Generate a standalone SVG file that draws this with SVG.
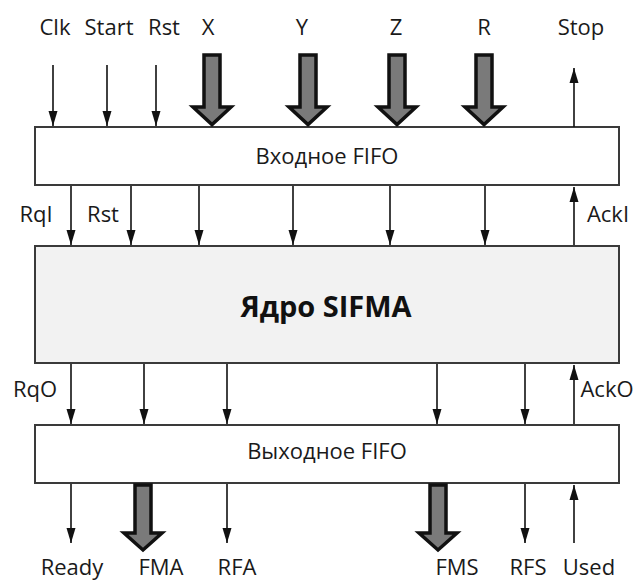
<svg xmlns="http://www.w3.org/2000/svg" width="637" height="581" viewBox="0 0 637 581">
<defs>
<style>
text{font-family:"Open Sans","DejaVu Sans",sans-serif;font-size:22px;fill:#1a1a1a;text-anchor:middle}
.box{fill:#ffffff;stroke:#3a3a3a;stroke-width:2}
.core{fill:#f2f2f2;stroke:#3a3a3a;stroke-width:2}
.thin{stroke:#111;stroke-width:1.6;fill:none}
.big{fill:#7a7a7a;stroke:#111;stroke-width:3.5;stroke-linejoin:miter}
.title{font-size:29px;font-weight:bold;fill:#111}
</style>
<marker id="ad" markerUnits="userSpaceOnUse" markerWidth="16" markerHeight="10" viewBox="0 0 16 10" refX="15" refY="5" orient="auto">
<path d="M0,0.5 L15,5 L0,9.5 Z" fill="#111"/>
</marker>
</defs>

<g id="input-fifo">
<rect class="box" x="35" y="127" width="584" height="58"/>
<text x="327" y="164">Входное FIFO</text>
</g>
<g id="core">
<rect class="core" x="35" y="246" width="584" height="117"/>
<text class="title" x="326" y="317">Ядро SIFMA</text>
</g>
<g id="output-fifo">
<rect class="box" x="35" y="425" width="584" height="58"/>
<text x="327" y="459">Выходное FIFO</text>
</g>

<g id="connectors">
<line class="thin" x1="53" y1="65" x2="53" y2="126" marker-end="url(#ad)"/>
<line class="thin" x1="107" y1="65" x2="107" y2="126" marker-end="url(#ad)"/>
<line class="thin" x1="156" y1="65" x2="156" y2="126" marker-end="url(#ad)"/>
<polygon class="big" points="204,55 220,55 220,107 231,107 212,124.5 193,107 204,107"/>
<polygon class="big" points="300,55 316,55 316,107 327,107 308,124.5 289,107 300,107"/>
<polygon class="big" points="389,55 405,55 405,107 416,107 397,124.5 378,107 389,107"/>
<polygon class="big" points="476,55 492,55 492,107 503,107 484,124.5 465,107 476,107"/>
<line class="thin" x1="574" y1="127" x2="574" y2="68" marker-end="url(#ad)"/>
<line class="thin" x1="71" y1="186" x2="71" y2="245" marker-end="url(#ad)"/>
<line class="thin" x1="131" y1="186" x2="131" y2="245" marker-end="url(#ad)"/>
<line class="thin" x1="199" y1="186" x2="199" y2="245" marker-end="url(#ad)"/>
<line class="thin" x1="293" y1="186" x2="293" y2="245" marker-end="url(#ad)"/>
<line class="thin" x1="390" y1="186" x2="390" y2="245" marker-end="url(#ad)"/>
<line class="thin" x1="485" y1="186" x2="485" y2="245" marker-end="url(#ad)"/>
<line class="thin" x1="574" y1="245" x2="574" y2="187" marker-end="url(#ad)"/>
<line class="thin" x1="71" y1="364" x2="71" y2="424" marker-end="url(#ad)"/>
<line class="thin" x1="144" y1="364" x2="144" y2="424" marker-end="url(#ad)"/>
<line class="thin" x1="227" y1="364" x2="227" y2="424" marker-end="url(#ad)"/>
<line class="thin" x1="437" y1="364" x2="437" y2="424" marker-end="url(#ad)"/>
<line class="thin" x1="525" y1="364" x2="525" y2="424" marker-end="url(#ad)"/>
<line class="thin" x1="574" y1="424" x2="574" y2="365" marker-end="url(#ad)"/>
<line class="thin" x1="71" y1="484" x2="71" y2="543" marker-end="url(#ad)"/>
<polygon class="big" points="135,485 151,485 151,533 162,533 143,550 124,533 135,533"/>
<line class="thin" x1="227" y1="484" x2="227" y2="543" marker-end="url(#ad)"/>
<polygon class="big" points="430,485 446,485 446,533 457,533 438,550 419,533 430,533"/>
<line class="thin" x1="525" y1="484" x2="525" y2="543" marker-end="url(#ad)"/>
<line class="thin" x1="574" y1="543" x2="574" y2="485" marker-end="url(#ad)"/>
</g>

<g id="labels">
<text x="55" y="35">Clk</text>
<text x="109" y="35">Start</text>
<text x="164" y="35">Rst</text>
<text x="208" y="35">X</text>
<text x="302" y="35">Y</text>
<text x="396" y="35">Z</text>
<text x="484" y="35">R</text>
<text x="581" y="35">Stop</text>
<text x="36" y="222">RqI</text>
<text x="103" y="222">Rst</text>
<text x="608" y="222">AckI</text>
<text x="35" y="397">RqO</text>
<text x="607" y="397">AckO</text>
<text x="72" y="575">Ready</text>
<text x="161" y="575">FMA</text>
<text x="237" y="575">RFA</text>
<text x="457" y="575">FMS</text>
<text x="528" y="575">RFS</text>
<text x="589" y="575">Used</text>
</g>
</svg>
